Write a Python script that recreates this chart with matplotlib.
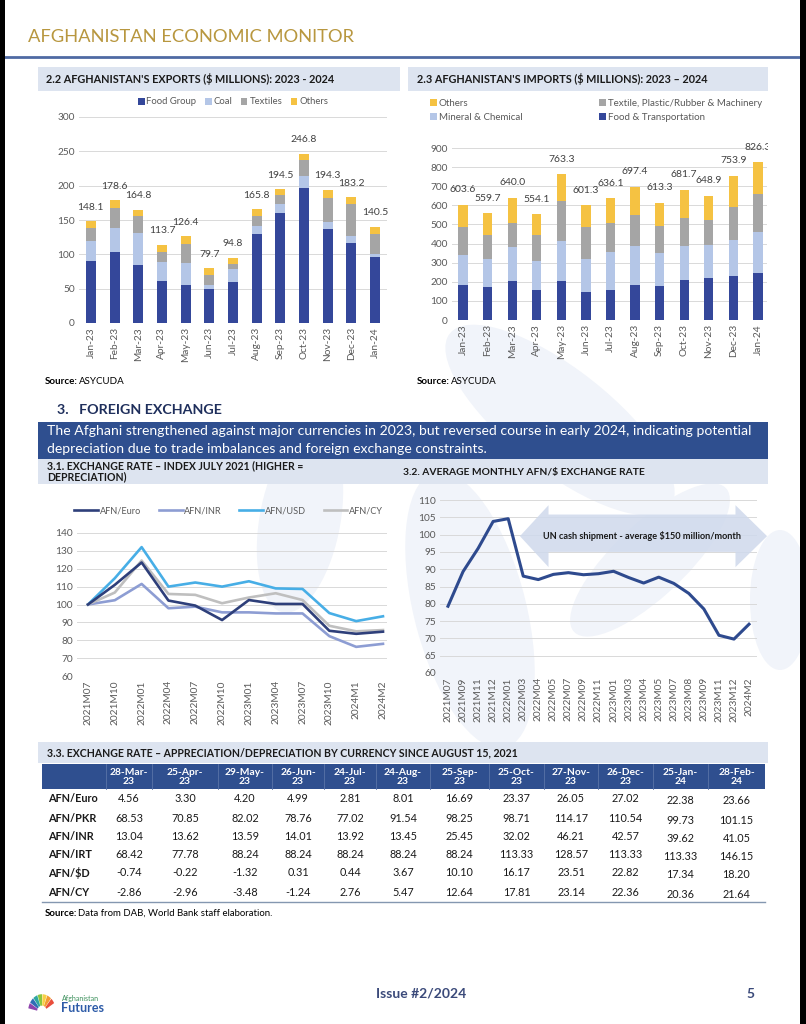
import numpy as np
import matplotlib
matplotlib.use('Agg')
import matplotlib.pyplot as plt
from matplotlib.patches import Rectangle, Polygon, Ellipse, Wedge
from matplotlib.lines import Line2D

plt.rcParams['font.family'] = ['Lato', 'DejaVu Sans']

# ---- data: exports ($ millions)
months = ['Jan-23', 'Feb-23', 'Mar-23', 'Apr-23', 'May-23', 'Jun-23', 'Jul-23',
          'Aug-23', 'Sep-23', 'Oct-23', 'Nov-23', 'Dec-23', 'Jan-24']
exp_food = [90, 103, 85, 60.5, 54.7, 48.9, 59.5, 129.7, 160.6, 196, 137.4, 117, 96.8]
exp_coal = [30, 36, 46.6, 29, 33.3, 6.3, 19.4, 12, 12, 17.4, 9.2, 10, 3.4]
exp_textiles = [18, 29, 24, 14, 26.7, 14.5, 7.7, 14, 13.6, 24, 35.8, 46.5, 29.5]
exp_others = [10.1, 10.6, 9.2, 10.2, 11.7, 10, 8.2, 10.1, 8.3, 9.4, 11.9, 9.7, 10.8]
exp_total = [148.1, 178.6, 164.8, 113.7, 126.4, 79.7, 94.8, 165.8, 194.5, 246.8, 194.3, 183.2, 140.5]

# ---- data: imports ($ millions)
imp_food = [183, 174, 204, 155, 206, 148, 155, 181, 178, 209, 218, 230, 246]
imp_mineral = [159, 143, 176, 155, 207, 173, 203, 208, 171, 178, 173, 187, 213]
imp_textile = [145, 130, 128, 135, 208, 167, 151, 162, 145, 147, 130, 176, 199]
imp_others = [116.6, 112.7, 132, 109.1, 142.3, 113.3, 127.1, 146.4, 119.3, 147.7, 127.9, 160.9, 168.3]
imp_total = [603.6, 559.7, 640.0, 554.1, 763.3, 601.3, 636.1, 697.4, 613.3, 681.7, 648.9, 753.9, 826.3]

# ---- data: exchange rate index (July 2021 = 100)
idx_periods = ['2021M07', '2021M10', '2022M01', '2022M04', '2022M07', '2022M10',
               '2023M01', '2023M04', '2023M07', '2023M10', '2024M1', '2024M2']
idx_euro = [100, 111, 123.5, 102.2, 99.4, 91.3, 102.5, 100.3, 100.3, 85.3, 83.6, 84.8]
idx_inr = [100, 102.4, 111.5, 97.9, 98.8, 95.6, 95.6, 95, 95, 82.3, 76.3, 78]
idx_usd = [100, 114.7, 132.1, 110, 112.3, 110, 113, 109, 108.7, 95.2, 90.7, 93.4]
idx_cy = [100, 106.7, 124.6, 105.9, 105.4, 100.7, 103.9, 106.3, 102.5, 88.1, 85, 85.7]

# ---- data: average monthly AFN/$
usd_periods = ['2021M07', '2021M09', '2021M11', '2021M12', '2022M01', '2022M03', '2022M04',
               '2022M05', '2022M07', '2022M09', '2022M11', '2023M01', '2023M03', '2023M04',
               '2023M05', '2023M07', '2023M08', '2023M09', '2023M11', '2023M12', '2024M2']
usd_rate = [79.3, 89.3, 96, 103.8, 104.6, 88, 87, 88.5, 89, 88.4, 88.7, 89.4, 87.6, 86,
            87.7, 85.9, 83, 78.5, 70.9, 69.8, 74.1]

# ---- data: appreciation/depreciation table
tbl_dates = ['28-Mar-\n23', '25-Apr-\n23', '29-May-\n23', '26-Jun-\n23', '24-Jul-\n23',
             '24-Aug-\n23', '25-Sep-\n23', '25-Oct-\n23', '27-Nov-\n23', '26-Dec-\n23',
             '25-Jan-\n24', '28-Feb-\n24']
tbl_rows = ['AFN/Euro', 'AFN/PKR', 'AFN/INR', 'AFN/IRT', 'AFN/\\$D', 'AFN/CY']
tbl_euro = [4.56, 3.30, 4.20, 4.99, 2.81, 8.01, 16.69, 23.37, 26.05, 27.02, 22.38, 23.66]
tbl_pkr = [68.53, 70.85, 82.02, 78.76, 77.02, 91.54, 98.25, 98.71, 114.17, 110.54, 99.73, 101.15]
tbl_inr = [13.04, 13.62, 13.59, 14.01, 13.92, 13.45, 25.45, 32.02, 46.21, 42.57, 39.62, 41.05]
tbl_irt = [68.42, 77.78, 88.24, 88.24, 88.24, 88.24, 88.24, 113.33, 128.57, 113.33, 113.33, 146.15]
tbl_usd = [-0.74, -0.22, -1.32, 0.31, 0.44, 3.67, 10.10, 16.17, 23.51, 22.82, 17.34, 18.20]
tbl_cy = [-2.86, -2.96, -3.48, -1.24, 2.76, 5.47, 12.64, 17.81, 23.14, 22.36, 20.36, 21.64]

# colours
C_FOOD = '#34479a'
C_COAL = '#b4c6e7'
C_TEXT = '#a5a5a5'
C_OTH = '#f5c242'
C_NAVY = '#2f4f8f'
C_LIGHT = '#dde4f0'
C_TICK = '#595959'
C_GRID = '#d9d9d9'
TICK_FS = 7.3

W, H = 806, 1024
fig = plt.figure(figsize=(W / 100, H / 100), dpi=100)


def px_axes(x0, y0, x1, y1):
    return fig.add_axes([x0 / W, 1 - y1 / H, (x1 - x0) / W, (y1 - y0) / H])


def ftext(x, y, s, **kw):
    return fig.text(x / W, 1 - y / H, s, **kw)


def frect(x0, y0, x1, y1, color, z=0, **kw):
    r = Rectangle((x0 / W, 1 - y1 / H), (x1 - x0) / W, (y1 - y0) / H,
                  transform=fig.transFigure, facecolor=color, edgecolor='none', zorder=z, **kw)
    fig.patches.append(r)
    return r


def fline(x0, y0, x1, y1, color, lw):
    fig.lines.append(Line2D([x0 / W, x1 / W], [1 - y0 / H, 1 - y1 / H], transform=fig.transFigure,
                            color=color, lw=lw))


def style_axes(ax):
    for s in ax.spines.values():
        s.set_visible(False)
    ax.tick_params(length=0, labelsize=TICK_FS, labelcolor=C_TICK, pad=3)
    ax.yaxis.grid(True, color=C_GRID, lw=0.7)
    ax.set_axisbelow(True)
    ax.patch.set_alpha(0)


# very faint watermark shapes in the background
for (cx, cy, w, h, ang) in [(560, 420, 260, 110, -30), (470, 610, 110, 290, 20),
                            (650, 560, 190, 80, 35), (300, 520, 80, 190, -15),
                            (780, 600, 60, 140, 0)]:
    e = Ellipse((cx / W, 1 - cy / H), w / W, h / H, angle=ang, transform=fig.transFigure,
                facecolor='#f1f4fa', edgecolor='none', zorder=-1)
    fig.patches.append(e)

# page border (screenshot edges)
frect(0, 0, 5, H, 'black', z=5)
frect(800, 0, W, H, 'black', z=5)

# page header
ftext(28, 37, 'AFGHANISTAN ECONOMIC MONITOR', fontsize=13.2, color='#b8973f', va='center')
fline(5, 57, 800, 57, '#4f6aa3', 2)

# ---------------- exports chart
frect(38, 67, 400, 91, C_LIGHT)
ftext(46, 79, "2.2 AFGHANISTAN'S EXPORTS (\\$ MILLIONS): 2023 - 2024", fontsize=7.8,
      fontweight='bold', color='#1a1a1a', va='center')
ax1 = px_axes(79, 117, 387, 323)
style_axes(ax1)
x = np.arange(len(months))
bottom = np.zeros(len(months))
for vals, col, lab in [(exp_food, C_FOOD, 'Food Group'), (exp_coal, C_COAL, 'Coal'),
                       (exp_textiles, C_TEXT, 'Textiles'), (exp_others, C_OTH, 'Others')]:
    ax1.bar(x, vals, 0.42, bottom=bottom, color=col, label=lab)
    bottom += np.array(vals)
for xi, top, lab in zip(x, bottom, exp_total):
    ax1.annotate(f'{lab:.1f}', (xi, top), xytext=(0, 14), textcoords='offset pixels',
                 ha='center', va='center', fontsize=7.5, color='#404040')
ax1.set_ylim(0, 300)
ax1.set_yticks(range(0, 301, 50))
ax1.set_xlim(-0.5, 12.5)
ax1.set_xticks(x)
ax1.set_xticklabels(months, rotation=90)
ax1.legend(loc='center', bbox_to_anchor=(0.5, 1 + 15 / 206), ncol=4, frameon=False, fontsize=6.8,
           handlelength=0.7, handleheight=0.7, handletextpad=0.2, columnspacing=0.9,
           labelcolor=C_TICK)
ftext(45, 381, 'Source:', fontsize=7, fontweight='bold', va='center')
ftext(79, 381, 'ASYCUDA', fontsize=7, va='center')

# ---------------- imports chart
frect(408, 67, 768, 91, C_LIGHT)
ftext(417, 79, "2.3 AFGHANISTAN'S IMPORTS (\\$ MILLIONS): 2023 \u2013 2024", fontsize=7.8,
      fontweight='bold', color='#1a1a1a', va='center')
ax2 = px_axes(452, 148, 767, 320)
style_axes(ax2)
bottom = np.zeros(len(months))
hnd = {}
for vals, col, lab in [(imp_food, C_FOOD, 'Food & Transportation'),
                       (imp_mineral, C_COAL, 'Mineral & Chemical'),
                       (imp_textile, C_TEXT, 'Textile, Plastic/Rubber & Machinery'),
                       (imp_others, C_OTH, 'Others')]:
    hnd[lab] = ax2.bar(x, vals, 0.38, bottom=bottom, color=col, label=lab)
    bottom += np.array(vals)
clip = Rectangle((0, 0), 768 / W, 1, transform=fig.transFigure)
for xi, top, lab in zip(x, bottom, imp_total):
    t = ax2.annotate(f'{lab:.1f}', (xi, top), xytext=(0, 15), textcoords='offset pixels',
                     ha='center', va='center', fontsize=7.5, color='#404040', annotation_clip=False)
    t.set_clip_path(clip)
    t.set_clip_on(True)
ax2.set_ylim(0, 900)
ax2.set_yticks(range(0, 901, 100))
ax2.set_xlim(-0.45, 12.37)
ax2.set_xticks(x)
ax2.set_xticklabels(months, rotation=90)
order = ['Others', 'Mineral & Chemical', 'Textile, Plastic/Rubber & Machinery', 'Food & Transportation']
fig.legend([hnd[k] for k in order], order, loc='lower left',
           bbox_to_anchor=(426 / W, 1 - 126 / H, 340 / W, 34 / H), mode='expand', ncol=2,
           frameon=False, fontsize=7, handlelength=0.7, handleheight=0.7, handletextpad=0.2,
           labelspacing=0.5, labelcolor=C_TICK, borderaxespad=0)
ftext(417, 381, 'Source:', fontsize=7, fontweight='bold', va='center')
ftext(451, 381, 'ASYCUDA', fontsize=7, va='center')

# ---------------- foreign exchange section
ftext(57, 410, '3.   FOREIGN EXCHANGE', fontsize=10.3, fontweight='bold', color='#1f2f5c', va='center')
frect(38, 422, 768, 459, C_NAVY)
ftext(47, 431, 'The Afghani strengthened against major currencies in 2023, but reversed course in early 2024, '
      'indicating potential', fontsize=10.1, color='white', va='center')
ftext(47, 449, 'depreciation due to trade imbalances and foreign exchange constraints.',
      fontsize=10.1, color='white', va='center')
frect(38, 459, 768, 484, C_LIGHT)
ftext(47, 466, '3.1. EXCHANGE RATE \u2013 INDEX JULY 2021 (HIGHER =', fontsize=7.6, fontweight='bold',
      color='#1a1a1a', va='center')
ftext(47, 477, 'DEPRECIATION)', fontsize=7.6, fontweight='bold', color='#1a1a1a', va='center')
ftext(403, 472, '3.2. AVERAGE MONTHLY AFN/\\$ EXCHANGE RATE', fontsize=7.4, fontweight='bold',
      color='#1a1a1a', va='center')

# index chart
ax3 = px_axes(77, 533, 387, 676)
style_axes(ax3)
xi3 = np.arange(len(idx_periods))
for vals, col, lab in [(idx_euro, '#2e3f7a', 'AFN/Euro'), (idx_inr, '#8d9dd3', 'AFN/INR'),
                       (idx_usd, '#47aee6', 'AFN/USD'), (idx_cy, '#bfbfbf', 'AFN/CY')]:
    ax3.plot(xi3, vals, color=col, lw=1.9, label=lab)
ax3.lines[0].set_zorder(3)
ax3.set_ylim(60, 140)
ax3.set_yticks(range(60, 141, 10))
ax3.set_xlim(-0.41, 11.15)
ax3.set_xticks(xi3)
ax3.set_xticklabels(idx_periods, rotation=90)
ax3.legend(loc='lower left', bbox_to_anchor=(-0.02, 1 + 14 / 143, 1.02, 0.06), mode='expand',
           ncol=4, frameon=False, fontsize=6.6, handlelength=2.6, handletextpad=0.2,
           labelcolor=C_TICK, borderaxespad=0)

# AFN/$ chart
ax4 = px_axes(440, 500, 757, 673)
style_axes(ax4)
xi4 = np.arange(len(usd_periods))
ax4.plot(xi4, usd_rate, color='#2e4a8e', lw=2.2)
ax4.set_ylim(60, 110)
ax4.set_yticks(range(60, 111, 5))
ax4.set_xlim(-0.53, 20.53)
ax4.set_xticks(xi4)
ax4.set_xticklabels(usd_periods, rotation=90)
# double-headed annotation arrow (from just after 2022M01 to past the right edge)
a0 = usd_periods.index('2022M01') + 0.78
a1 = len(usd_periods) + 0.2
hl0, hl1 = 1.9, 2.1
yb0, yb1, yh0, yh1 = 95, 105.8, 90.6, 108.5
ym = (yh0 + yh1) / 2
arrow = Polygon([(a0, ym), (a0 + hl0, yh1), (a0 + hl0, yb1), (a1 - hl1, yb1), (a1 - hl1, yh1),
                 (a1, ym), (a1 - hl1, yh0), (a1 - hl1, yb0), (a0 + hl0, yb0), (a0 + hl0, yh0)],
                closed=True, facecolor='#cfd9ec', edgecolor='none', alpha=0.85, zorder=4,
                clip_on=False)
ax4.add_patch(arrow)
ax4.text(12.9, 99.7, 'UN cash shipment - average \\$150 million/month', ha='center', va='center',
         fontsize=6.6, fontweight='bold', color='#1a1a1a', zorder=5)

# ---------------- table
frect(38, 742, 768, 763, C_LIGHT)
ftext(47, 753, '3.3. EXCHANGE RATE \u2013 APPRECIATION/DEPRECIATION BY CURRENCY SINCE AUGUST 15, 2021',
      fontsize=7.6, fontweight='bold', color='#1a1a1a', va='center')
col_edges = [42, 106, 152, 218, 272, 324, 376, 430, 489, 544, 598, 653, 708, 765]
frect(col_edges[0], 764, col_edges[-1], 789, C_NAVY)
for e in col_edges[1:-1]:
    fline(e, 764, e, 789, '#5a73a8', 0.6)
row_y = [799, 818, 837, 855, 873, 892]
tbl_vals = [tbl_euro, tbl_pkr, tbl_inr, tbl_irt, tbl_usd, tbl_cy]
for j, d in enumerate(tbl_dates):
    cx = (col_edges[j + 1] + col_edges[j + 2]) / 2
    ftext(cx, 777, d, fontsize=7.4, fontweight='bold', color='white', ha='center', va='center',
          linespacing=1.0)
for i, (lab, vals) in enumerate(zip(tbl_rows, tbl_vals)):
    ftext(48, row_y[i], lab, fontsize=7.8, fontweight='bold', color='#1a1a1a', va='center')
    for j, v in enumerate(vals):
        cx = (col_edges[j + 1] + col_edges[j + 2]) / 2
        dy = 2 if j >= 10 else 0
        ftext(cx, row_y[i] + dy, f'{v:.2f}', fontsize=7.8, color='#1a1a1a', ha='center', va='center')
fline(42, 902, 765, 902, '#8497b0', 1.0)
ftext(45, 913, 'Source:', fontsize=6.9, fontweight='bold', va='center')
ftext(78, 913, 'Data from DAB, World Bank staff elaboration.', fontsize=6.9, va='center')

# ---------------- footer
ftext(421, 994, 'Issue #2/2024', fontsize=10, fontweight='bold', color='#3b4a7a', ha='center', va='center')
ftext(750, 994, '5', fontsize=10, fontweight='bold', color='#3b4a7a', ha='center', va='center')
logo_cols = ['#e94e3c', '#f39c33', '#f7d046', '#8cc63f', '#2fa7a0', '#2f6db5', '#8e44ad']
for k, c in enumerate(logo_cols):
    w = Wedge((42 / W, 1 - 1012 / H), 14 / W, 30 + k * 20, 48 + k * 20, width=9 / W,
              transform=fig.transFigure, facecolor=c, edgecolor='none')
    fig.patches.append(w)
ftext(62, 999, 'Afghanistan', fontsize=5, color='#3a8f5a', va='center')
ftext(61, 1008, 'Futures', fontsize=9, fontweight='bold', color='#2e5ca8', va='center')

fig.savefig('out.png', dpi=100)
